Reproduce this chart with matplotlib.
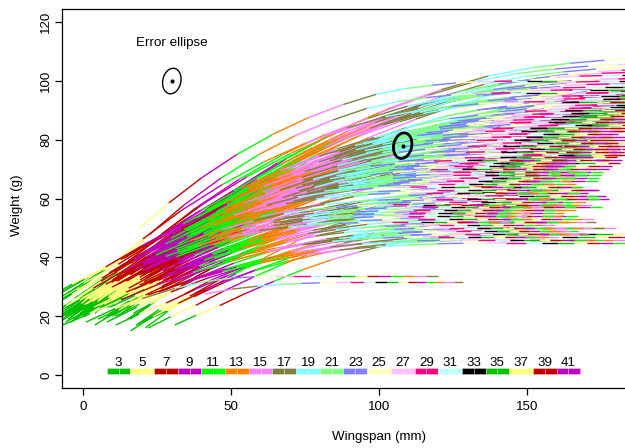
import numpy as np
import matplotlib
matplotlib.use("Agg")
import matplotlib.pyplot as plt
from matplotlib.collections import LineCollection
from matplotlib.patches import Ellipse

plt.rcParams["font.family"] = ["Liberation Sans", "DejaVu Sans"]
plt.rcParams["font.size"] = 9.6

# one colour per two-day age class; the set repeats after 16 classes
AGE_COLOURS = ["#00C000", "#FFFF80", "#C00000", "#C000C0", "#00FF00", "#FF8000",
               "#FF80FF", "#808040", "#80FFFF", "#80FF80", "#8080FF", "#FFFFC0",
               "#FFC0FF", "#FF0080", "#C0FFFF", "#000000"]
LEGEND_DAYS = list(range(3, 43))
LEGEND_LABELS = list(range(3, 42, 2))

# typical wingspan (mm) of a chick at odd ages 3..61 days
TYPICAL_AGES = list(range(3, 62, 2))
TYPICAL_SPAN = [3, 12, 22, 33, 45, 57, 69, 81, 92, 102,
                111, 119, 126, 132, 138, 143, 148, 153, 157, 161,
                165, 169, 173, 177, 181, 185, 189, 193, 197, 201]

# share of weight gain still to come, at odd ages -3..61 days
REMAIN_AGES = list(range(-3, 62, 2))
REMAIN = [1.38, 1.25, 1.12, 1.0, 0.88, 0.73, 0.58, 0.44, 0.32, 0.22,
          0.14, 0.08, 0.045, 0.025, 0.012, 0.005, 0.002] + [0.0] * 16

# per chick: rows = heavy / upper / middle / light birds, odd ones, extra birds
SPAN0 = [8, 4, 12, -3, 6, 10, 1, 14, 7, -5, 3, 11, 9, 0, 13, 5, -2, 8, 2, 15,
         5, -2, 10, 3, -6, 8, 12, 0, 6, -4, 9, 2, 14, -1, 7, 4, -8, 11, 1, 13,
         -3, 6, 9, 2, -5, 10, 4, 7, 0, 12, -7, 5, 3, 8, -2, 11, 6, -4, 15, 1,
         3, -6, 8, 0, 5, -9, 11, 2, -3, 7, 4, -1, 9, 6, -4, 13, 1, 10, -7, 5,
         8, -2, 3, 12, 0, 6, -5, 9, 2, -8, 14, 5, -3, 7, 1, 10, -10, 4, 8, -1,
         11, 3, 6, -4, 0,
         2, -5, 7, 10, -2, 4, 12, -8, 6, 15, 0, 9, -4, 18, 3, 11, -6, 5, 14, 8,
         1, -3, 6, 20, 13, -1, 5, 9, 16, 3, -7, 10, 22, 0, 7, 12, -2, 4, 8, 17,
         19, 20, 41, 16, 31, 11, 12,
         -9, -12, -10, -14, -11, -13, -9, -10, -12, -14,
         6, 1, 9, -4, 14, 3, 7, -6, 11, 0, 5, 16, -3, 8, 2, 12, -9, 4, 10, -1,
         13, 6, -5, 3, 9, 18, 0, 7, -2, 15, 4, 11, -7, 2, 8, 21, 5, -3, 12, 1]
W0 = [30, 28, 32, 26, 29, 31, 27, 33, 25, 28, 30, 29, 31, 27, 34, 26, 29, 30, 28, 32,
      27, 24, 29, 26, 22, 28, 31, 23, 27, 21, 30, 25, 29, 26, 28, 24, 20, 29, 25, 31,
      23, 28, 27, 24, 21, 30, 26, 27, 25, 29, 20, 25, 26, 28, 23, 30, 26, 22, 31, 24,
      24, 21, 26, 20, 27, 19, 25, 23, 22, 26, 21, 25, 27, 23, 18, 28, 24, 24, 19, 26,
      23, 22, 25, 27, 20, 26, 20, 24, 23, 18, 29, 22, 22, 25, 21, 27, 18, 23, 26, 21,
      27, 24, 24, 20, 23,
      22, 19, 24, 20, 23, 17, 25, 18, 23, 19, 22, 21, 18, 17, 24, 20, 18, 22, 24, 20,
      18, 19, 23, 18, 21, 22, 19, 23, 19, 24, 17, 22, 16, 21, 19, 23, 20, 24, 18, 21,
      50, 26, 27.5, 15, 17, 17, 38,
      21, 23, 25, 19, 26, 22, 27, 24, 20, 25,
      26, 23, 28, 21, 29, 24, 27, 20, 30, 22, 25, 31, 19, 27, 23, 29, 20, 24, 28, 22,
      30, 26, 19, 25, 27, 17, 22, 25, 21, 29, 24, 28, 20, 23, 26, 16, 25, 21, 28, 22]
WMAX = [108, 104, 101, 98, 106, 96, 103, 99, 95, 100, 97, 105, 94, 102, 96, 99, 93, 101, 97, 95,
        92, 88, 85, 90, 83, 87, 94, 81, 89, 86, 91, 84, 80, 93, 88, 82, 90, 85, 87, 83,
        89, 92, 81, 86, 84, 90, 88, 82, 95, 85, 87, 80, 91, 84, 89, 86, 83, 93, 81, 88,
        78, 72, 75, 69, 80, 74, 66, 77, 71, 73, 68, 79, 76, 70, 65, 74, 78, 67, 72, 75,
        69, 77, 73, 71, 66, 79, 74, 68, 76, 70, 72, 65, 78, 73, 69, 75, 71, 67, 77, 74,
        70, 76, 68, 72, 79,
        62, 55, 58, 50, 64, 47, 60, 53, 57, 49, 63, 52, 59, 46, 61, 54, 48, 56, 60, 51,
        45, 58, 63, 50, 55, 62, 47, 57, 53, 64, 49, 59, 52, 61, 46, 56, 54, 60, 48, 58,
        100, 33.8, 31.5, 62, 48, 52, 96,
        70, 78, 84, 58, 88, 73, 86, 76, 64, 80,
        84, 72, 90, 62, 97, 76, 88, 55, 93, 68, 79, 99, 57, 85, 71, 91, 52, 77, 87, 66,
        94, 81, 54, 73, 89, 48, 69, 83, 60, 96, 78, 86, 56, 74, 90, 50, 80, 63, 92, 67]
RATE = [1.45, 1.38, 1.32, 1.28, 1.42, 1.24, 1.35, 1.27, 1.20, 1.33,
        1.25, 1.40, 1.19, 1.30, 1.22, 1.28, 1.17, 1.34, 1.21, 1.18,
        1.25, 1.17, 1.13, 1.23, 1.10, 1.20, 1.27, 1.07, 1.21, 1.15,
        1.24, 1.11, 1.05, 1.26, 1.18, 1.09, 1.22, 1.14, 1.19, 1.08,
        1.20, 1.29, 1.03, 1.16, 1.12, 1.23, 1.17, 1.06, 1.30, 1.13,
        1.18, 1.02, 1.25, 1.10, 1.21, 1.15, 1.07, 1.27, 1.04, 1.19,
        1.13, 1.05, 1.09, 1.01, 1.17, 1.07, 0.98, 1.11, 1.03, 1.08,
        1.00, 1.15, 1.10, 1.02, 0.96, 1.06, 1.14, 0.99, 1.04, 1.12,
        1.01, 1.16, 1.07, 1.03, 0.97, 1.18, 1.09, 1.00, 1.11, 1.04,
        1.06, 0.95, 1.15, 1.08, 1.02, 1.10, 1.05, 0.98, 1.13, 1.07,
        1.03, 1.12, 0.99, 1.05, 1.19,
        1.00, 0.92, 0.96, 0.88, 1.05, 0.90, 0.98, 0.94, 1.02, 0.86,
        1.07, 0.91, 0.99, 0.95, 1.03, 0.89, 1.08, 0.93, 1.01, 0.87,
        1.10, 0.97, 1.04, 0.92, 0.88, 1.06, 1.12, 0.95, 0.90, 1.00,
        1.05, 0.94, 0.85, 1.09, 0.98, 0.91, 1.02, 0.96, 1.14, 0.89,
        1.0, 1.0, 0.78, 0.85, 0.8, 0.9, 1.05,
        0.98, 1.10, 1.15, 0.92, 1.25, 1.02, 1.20, 1.08, 0.95, 1.14,
        1.12, 1.00, 1.18, 0.93, 1.30, 1.04, 1.16, 0.90, 1.22, 0.97,
        1.06, 1.33, 0.91, 1.13, 0.99, 1.21, 0.88, 1.05, 1.17, 0.96,
        1.26, 1.09, 0.89, 1.01, 1.19, 0.86, 0.97, 1.11, 0.94, 1.28,
        1.03, 1.15, 0.92, 1.02, 1.20, 0.87, 1.08, 0.95, 1.24, 0.98]
LAG = [0, 2, 0, 2, 0, 0, 2, 0, 0, 2, 0, 0, 0, 2, 0, 0, 0, 2, 0, 0,
       2, 2, 0, 2, 0, 2, 2, 0, 2, 0, 2, 0, 0, 2, 2, 0, 2, 0, 2, 0,
       2, 4, 0, 0, 0, 2, 2, 0, 4, 0, 2, 0, 2, 0, 2, 0, 0, 2, 0, 2,
       0, 0, 2, 0, 2, 0, -2, 0, 0, 2, -2, 2, 0, 0, -2, 0, 2, -2, 0, 2,
       0, 2, 0, 0, -2, 2, 0, -2, 0, 0, 2, -2, 2, 0, 0, 2, 0, -2, 0, 2,
       0, 0, -2, 0, 2,
       0, -2, 0, -2, 0, -2, 0, -2, 0, -2, 2, 0, -2, -2, 0, 0, -2, 0, 0, -2,
       -2, 0, 0, 0, -2, 2, -2, 0, -2, 0, 0, 0, 2, 0, -2, 0, 0, 0, -2, 0,
       0, -4, -2, 4, 2, 2, 0,
       2, 2, 2, 0, 2, 2, 2, 2, 0, 2,
       2, 0, 2, -2, 4, 0, 2, -2, 2, 0, 0, 4, -2, 2, 0, 2, -2, 0, 2, 0,
       2, 0, -2, 0, 2, -2, 0, 2, -2, 4, 0, 2, -2, 0, 2, -2, 0, -2, 2, 0]
FIRST_AGE = [3] * 145 + [5, 17, 15, 3, 3, 3, 5] + [3] * 50
LAST_AGE = [35, 37, 39, 41, 33, 41, 37, 39, 41, 37, 41, 35, 41, 39, 41, 41, 41, 37, 41, 41,
            39, 41, 41, 39, 43, 41, 37, 43, 41, 43, 39, 41, 43, 39, 41, 43, 41, 41, 41, 43,
            41, 37, 43, 41, 43, 39, 41, 43, 37, 41, 43, 43, 39, 41, 41, 41, 43, 39, 43, 41,
            43, 43, 41, 45, 41, 43, 45, 43, 43, 41, 45, 41, 43, 43, 47, 41, 41, 45, 43, 41,
            45, 41, 43, 43, 47, 39, 43, 45, 43, 45, 41, 47, 41, 43, 45, 41, 43, 45, 41, 43,
            43, 41, 45, 43, 39,
            45, 47, 45, 49, 43, 49, 45, 47, 45, 49, 43, 47, 45, 49, 45, 47, 43, 47, 43, 49,
            45, 47, 43, 49, 47, 43, 43, 45, 49, 45, 45, 47, 51, 43, 47, 47, 45, 45, 41, 49,
            39, 51, 51, 45, 47, 47, 39,
            43, 41, 41, 47, 37, 43, 39, 41, 45, 41,
            41, 43, 39, 47, 35, 43, 41, 49, 37, 45, 43, 35, 49, 41, 45, 39, 49, 43, 41, 45,
            37, 41, 49, 43, 39, 51, 45, 41, 47, 35, 43, 41, 47, 43, 39, 51, 41, 47, 37, 45]

# error ellipse: shown once as a key and once on the cloud
ELLIPSE_CENTRES = [(30, 100), (108, 78)]
ELLIPSE_SIZE = (6.1, 8.8)


def track(i):
    """Wingspan and weight of chick i at every second day it was measured."""
    ages = np.arange(FIRST_AGE[i], LAST_AGE[i] + 1, 2)
    span_t = np.interp(ages, TYPICAL_AGES, TYPICAL_SPAN)
    span = SPAN0[i] + RATE[i] * (span_t - span_t[0])
    rem = np.interp(ages - LAG[i], REMAIN_AGES, REMAIN)
    weight = WMAX[i] - (WMAX[i] - W0[i]) * rem / rem[0]
    return ages, span, weight


def colour_for(age):
    return AGE_COLOURS[((age - 3) // 2) % len(AGE_COLOURS)]


segs = []
for i in range(len(SPAN0)):
    ages, span, weight = track(i)
    for j in range(len(ages) - 1):
        segs.append((ages[j], [(span[j], weight[j]), (span[j + 1], weight[j + 1])]))
segs.sort(key=lambda s: s[0])             # older ages drawn on top

fig = plt.figure(figsize=(6.25, 4.48), dpi=100)
# the plot box runs past the right edge of the picture, as in the source
ax = fig.add_axes([62 / 625, 60.5 / 448, 634 / 625, 378.2 / 448])
lc = LineCollection([s[1] for s in segs], colors=[colour_for(s[0]) for s in segs],
                    linewidths=1.0, capstyle="butt")
ax.add_collection(lc)

# colour key along the bottom
cell = 4.0
lefts = [8 + cell * (d - 3) for d in LEGEND_DAYS]
ax.bar(lefts, 2.25, width=cell, bottom=0.25, align="edge",
       color=[colour_for(d) for d in LEGEND_DAYS],
       edgecolor=(1, 1, 1, 0.5), linewidth=0.4)
for d in LEGEND_LABELS:
    ax.text(8 + cell * (d - 3) + cell, 3.15, str(d), ha="center", va="baseline",
            fontsize=9.6)

for k, (cx, cy) in enumerate(ELLIPSE_CENTRES):
    ax.add_patch(Ellipse((cx, cy), ELLIPSE_SIZE[0], ELLIPSE_SIZE[1], angle=-12,
                         fill=False, ec="black", lw=1.0 if k == 0 else 2.0, zorder=5))
    ax.plot(cx, cy, "o", color="black", ms=2.0, zorder=6)
ax.text(30, 112, "Error ellipse", ha="center", va="baseline", fontsize=9.6)

ax.set_xlim(-7.1, 207.1)
ax.set_ylim(-4.25, 124.4)
ax.set_xticks([0, 50, 100, 150])
ax.set_yticks([0, 20, 40, 60, 80, 100, 120])
ax.tick_params(direction="out", length=5, width=0.9, labelsize=9.6)
ax.tick_params(axis="x", pad=5)
ax.tick_params(axis="y", pad=2)
for lab in ax.get_yticklabels():
    lab.set_rotation(90)
    lab.set_va("center")
for sp in ax.spines.values():
    sp.set_linewidth(0.9)

fig.text(379 / 625, 1 - 437 / 448, "Wingspan (mm)", ha="center", va="center")
fig.text(17 / 625, 1 - 205 / 448, "Weight (g)", rotation=90, ha="center", va="center")

fig.savefig("out.png", dpi=100)
